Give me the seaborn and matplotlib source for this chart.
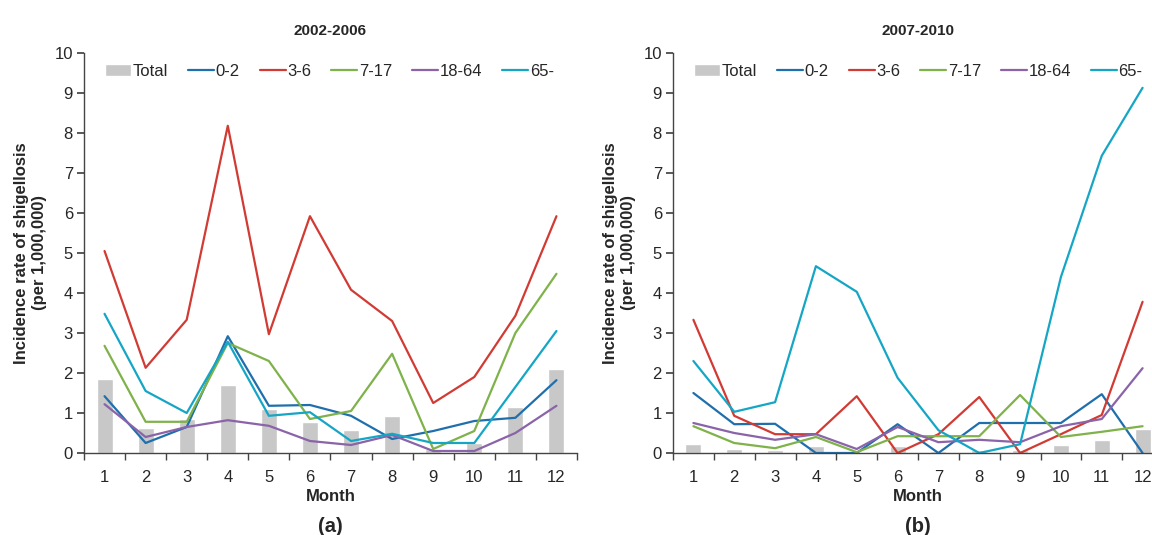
import pandas as pd
import matplotlib
matplotlib.use("Agg")
import matplotlib.pyplot as plt
import seaborn as sns

sns.set_theme(style="ticks")
plt.rcParams['font.family'] = ['Liberation Sans', 'DejaVu Sans']

months = list(range(1, 13))
groups = ['0-2', '3-6', '7-17', '18-64', '65-']
colors = ['#1f6fad', '#d13b34', '#7fb24a', '#8a63a8', '#15a6c6']

# 2002-2006
total_a = [1.85, 0.63, 0.85, 1.70, 1.09, 0.77, 0.58, 0.92, 0.10, 0.26, 1.15, 2.10]
a_0_2 = [1.42, 0.25, 0.65, 2.92, 1.18, 1.20, 0.93, 0.35, 0.55, 0.80, 0.88, 1.82]
a_3_6 = [5.05, 2.13, 3.33, 8.18, 2.97, 5.92, 4.08, 3.30, 1.25, 1.90, 3.43, 5.92]
a_7_17 = [2.68, 0.78, 0.78, 2.75, 2.30, 0.85, 1.05, 2.48, 0.10, 0.55, 3.00, 4.48]
a_18_64 = [1.22, 0.40, 0.65, 0.82, 0.68, 0.30, 0.20, 0.45, 0.05, 0.05, 0.50, 1.18]
a_65 = [3.48, 1.55, 1.00, 2.78, 0.93, 1.02, 0.30, 0.48, 0.25, 0.25, 1.65, 3.05]

# 2007-2010
total_b = [0.22, 0.10, 0.07, 0.17, 0.02, 0.17, 0.05, 0.07, 0.07, 0.20, 0.33, 0.60]
b_0_2 = [1.50, 0.72, 0.73, 0.00, 0.00, 0.72, 0.00, 0.75, 0.75, 0.75, 1.47, 0.00]
b_3_6 = [3.33, 0.93, 0.47, 0.47, 1.42, 0.00, 0.47, 1.40, 0.00, 0.47, 0.95, 3.78]
b_7_17 = [0.67, 0.25, 0.12, 0.40, 0.02, 0.42, 0.42, 0.42, 1.45, 0.40, 0.53, 0.67]
b_18_64 = [0.75, 0.50, 0.33, 0.47, 0.10, 0.65, 0.27, 0.33, 0.27, 0.67, 0.85, 2.12]
b_65 = [2.30, 1.03, 1.27, 4.67, 4.03, 1.88, 0.57, 0.00, 0.22, 4.40, 7.43, 9.13]

panels = [
    ('2002-2006', '(a)', total_a, [a_0_2, a_3_6, a_7_17, a_18_64, a_65]),
    ('2007-2010', '(b)', total_b, [b_0_2, b_3_6, b_7_17, b_18_64, b_65]),
]

fig = plt.figure(figsize=(11.52, 5.35), dpi=100)
W, H = 1152, 535
boxes = [(84, 53, 493, 400), (673, 53, 490, 400)]

for (title, tag, total, series), (x0, y0, w, h) in zip(panels, boxes):
    ax = fig.add_axes([x0 / W, 1 - (y0 + h) / H, w / W, h / H])
    df = pd.DataFrame({'Month': months, 'Total': total})
    sns.barplot(data=df, x='Month', y='Total', native_scale=True, color='#c8c8c8',
                width=0.39, saturation=1, ax=ax, label='Total')
    for g, vals, c in zip(groups, series, colors):
        d = pd.DataFrame({'Month': months, 'v': vals})
        sns.lineplot(data=d, x='Month', y='v', color=c, linewidth=1.6, ax=ax, label=g)

    ax.set_xlim(0.5, 12.5)
    ax.set_ylim(0, 10)
    ax.set_yticks(range(0, 11))
    ax.set_xticks(months)
    ax.set_xticks([m + 0.5 for m in range(0, 13)], minor=True)
    ax.tick_params(axis='x', which='major', length=0, labelsize=12, pad=12)
    ax.tick_params(axis='x', which='minor', length=5, direction='out', color='#444444')
    ax.tick_params(axis='y', length=5, direction='out', labelsize=12, pad=3,
                   color='#444444')
    sns.despine(ax=ax)
    for s in ['left', 'bottom']:
        ax.spines[s].set_color('#444444')
        ax.spines[s].set_linewidth(1.0)
    ax.set_xlabel('Month', fontsize=12, fontweight='bold', labelpad=3)
    ax.set_ylabel('Incidence rate of shigellosis\n(per 1,000,000)', fontsize=12,
                  fontweight='bold', labelpad=5, linespacing=1.25)
    ax.set_title(title, fontsize=11, fontweight='bold', pad=13)
    ax.text(0.5, -0.16, tag, transform=ax.transAxes, ha='center', va='top',
            fontsize=14.5, fontweight='bold')

    handles, labels = ax.get_legend_handles_labels()
    order = [labels.index(l) for l in ['Total'] + groups]
    ax.legend([handles[i] for i in order], [labels[i] for i in order],
              loc='upper left', bbox_to_anchor=(0.03, 0.99), ncol=6, frameon=False,
              fontsize=12, handlelength=1.55, handletextpad=0.1, columnspacing=1.2,
              borderaxespad=0.0)

fig.savefig('out.png', dpi=100)
